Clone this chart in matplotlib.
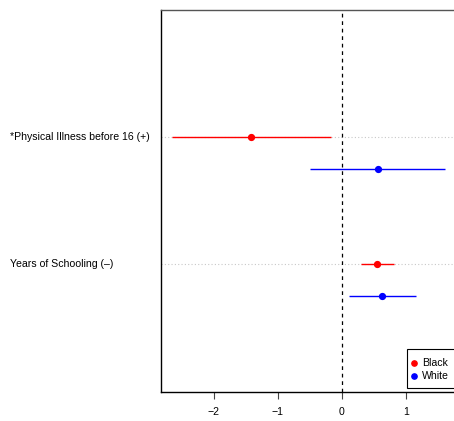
import matplotlib
matplotlib.use("Agg")
import matplotlib.pyplot as plt
from matplotlib.lines import Line2D
from matplotlib.patches import Rectangle
import matplotlib.transforms as mtransforms

plt.rcParams['font.family'] = ['Liberation Sans', 'DejaVu Sans']

variables = ["*Physical Illness before 16 (+)", "Years of Schooling (\u2013)"]
groups = ["Black", "White"]
colors = {"Black": "#ff0000", "White": "#0000ff"}

black_est = [-1.415, 0.55]
black_lo = [-2.65, 0.296]
black_hi = [-0.167, 0.81]
white_est = [0.56, 0.624]
white_lo = [-0.495, 0.114]
white_hi = [1.616, 1.154]

W, H = 454, 421
FS = 7.6
fig = plt.figure(figsize=(W / 100, H / 100), dpi=100)
left_px, right_px, top_px, bot_px = 160.7, 456.2, 10.0, 391.7
ax = fig.add_axes([left_px / W, 1 - bot_px / H, (right_px - left_px) / W, (bot_px - top_px) / H])

ypos = [2, 1]
offset = 0.25
for i, v in enumerate(variables):
    ax.axhline(ypos[i], color="#c8c8c8", lw=0.8, ls=(0, (1, 2)), zorder=0)
    yb = ypos[i]
    yw = ypos[i] - offset
    ax.plot([black_lo[i], black_hi[i]], [yb, yb], color=colors["Black"], lw=1.0, solid_capstyle="butt", zorder=2)
    ax.plot([black_est[i]], [yb], "o", color=colors["Black"], ms=4.2, zorder=3)
    ax.plot([white_lo[i], white_hi[i]], [yw, yw], color=colors["White"], lw=1.0, solid_capstyle="butt", zorder=2)
    ax.plot([white_est[i]], [yw], "o", color=colors["White"], ms=4.2, zorder=3)

ax.axvline(0, color="black", lw=0.9, ls=(0, (3, 3)), zorder=1)

ax.set_xlim(-2.824, 1.787)
ax.set_ylim(0, 3)
ax.set_xticks([-2, -1, 0, 1])
ax.set_xticklabels(["\u22122", "\u22121", "0", "1"])
ax.set_yticks([])
ax.tick_params(axis="x", length=5, width=0.8, pad=6, labelsize=FS, color="#444444")

trans = mtransforms.blended_transform_factory(fig.transFigure, ax.transData)
for i, v in enumerate(variables):
    fig.text(10 / W, ypos[i], v, transform=trans, ha="left", va="center", fontsize=FS)

for s in ["left", "bottom"]:
    ax.spines[s].set_color("black")
    ax.spines[s].set_linewidth(1.0)
ax.spines["top"].set_color("#555555")
ax.spines["top"].set_linewidth(1.0)
ax.spines["right"].set_visible(False)

# legend (drawn manually to match R's legend box)
lx0, ly0, lx1, ly1 = 407.3, 349.0, 470.0, 388.3
fig.patches.append(Rectangle((lx0 / W, 1 - ly1 / H), (lx1 - lx0) / W, (ly1 - ly0) / H,
                             transform=fig.transFigure, facecolor="white", edgecolor="black",
                             lw=0.8, zorder=5))
for k, g in enumerate(groups):
    yy = 1 - (363.3 + 12.7 * k) / H
    fig.lines.append(Line2D([414.3 / W], [yy], marker="o", ls="", color=colors[g], ms=3.8,
                            transform=fig.transFigure, zorder=6))
    fig.text(421.7 / W, yy, g, ha="left", va="center", fontsize=FS, zorder=6)

fig.savefig("out.png", dpi=100)
